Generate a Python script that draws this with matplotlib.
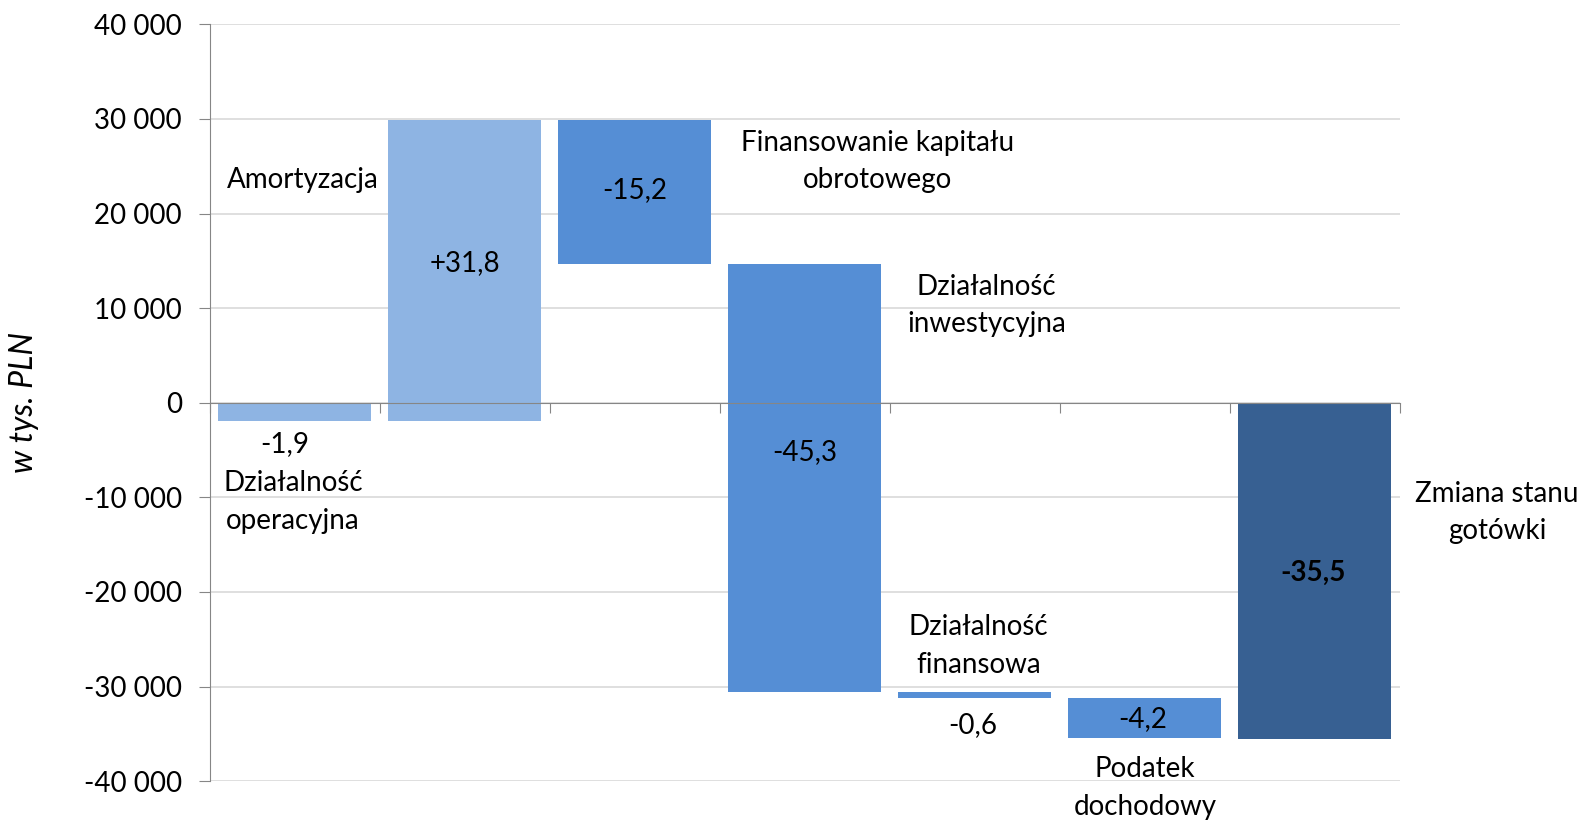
import matplotlib
matplotlib.use("Agg")
import matplotlib.pyplot as plt
from matplotlib.ticker import FuncFormatter

plt.rcParams['font.family'] = ['Lato', 'DejaVu Sans']

# cash flow steps (thousand PLN)
steps = [-1900, 31800, -15200, -45300, -600, -4200]
total = -35500
value_labels = ["-1,9", "+31,8", "-15,2", "-45,3", "-0,6", "-4,2"]
total_label = "-35,5"
step_colors = ['#8EB4E3', '#8EB4E3', '#558ED5', '#558ED5', '#558ED5', '#558ED5']
total_color = '#376092'

# category names and where they sit (x in category units, y in data units)
names = ["Działalność\noperacyjna", "Amortyzacja", "Finansowanie kapitału\nobrotowego",
         "Działalność\ninwestycyjna", "Działalność\nfinansowa", "Podatek\ndochodowy",
         "Zmiana stanu\ngotówki"]
name_x = [-0.01, 0.05, 3.43, 4.07, 4.02, 5.0, 7.07]
name_y = [-10500, 23500, 25500, 10300, -25700, -40700, -11600]
label_x = [-0.06, 1.0, 2.0, 3.0, 3.99, 4.99]
label_y = [-4400, 14800, 22500, -5200, -34050, -33400]
total_label_y = -18000

fig = plt.figure(figsize=(15.89, 8.24), dpi=100)
ax = fig.add_axes([0.132, 0.052, 0.749, 0.9185])

bottoms = []
level = 0
for s in steps:
    bottoms.append(level)
    level += s

for i in range(len(steps)):
    ax.bar(i, steps[i], bottom=bottoms[i], width=0.9, color=step_colors[i], zorder=1)
ax.bar(len(steps), total, width=0.9, color=total_color, zorder=1)

for i in range(len(value_labels)):
    ax.text(label_x[i], label_y[i], value_labels[i], ha='center', va='center', fontsize=20)
ax.text(len(steps) - 0.01, total_label_y, total_label, ha='center', va='center',
        fontsize=20, fontweight='bold')

for i in range(len(names)):
    ax.text(name_x[i], name_y[i], names[i], ha='center', va='center', fontsize=20,
            linespacing=1.55)

ax.set_xlim(-0.5, 6.5)
ax.set_ylim(-40000, 40000)
ax.set_yticks(range(-40000, 40001, 10000))
ax.yaxis.set_major_formatter(FuncFormatter(lambda v, p: f"{int(v):,}".replace(",", " ")))
ax.set_xticks([i - 0.5 for i in range(8)])
ax.set_xticklabels([])

ax.spines['top'].set_visible(False)
ax.spines['right'].set_visible(False)
ax.spines['bottom'].set_position(('data', 0))
ax.spines['left'].set_color('#868686')
ax.spines['bottom'].set_color('#868686')
ax.tick_params(axis='y', direction='out', length=8, color='#868686', labelsize=20, pad=12)
ax.tick_params(axis='x', direction='out', length=7, color='#868686')

ax.grid(axis='y', color='#D9D9D9', linewidth=1.2)
ax.set_axisbelow(True)

ax.set_ylabel("w tys. PLN", fontsize=23, style='italic', labelpad=32)

fig.savefig("out.png", dpi=100)
